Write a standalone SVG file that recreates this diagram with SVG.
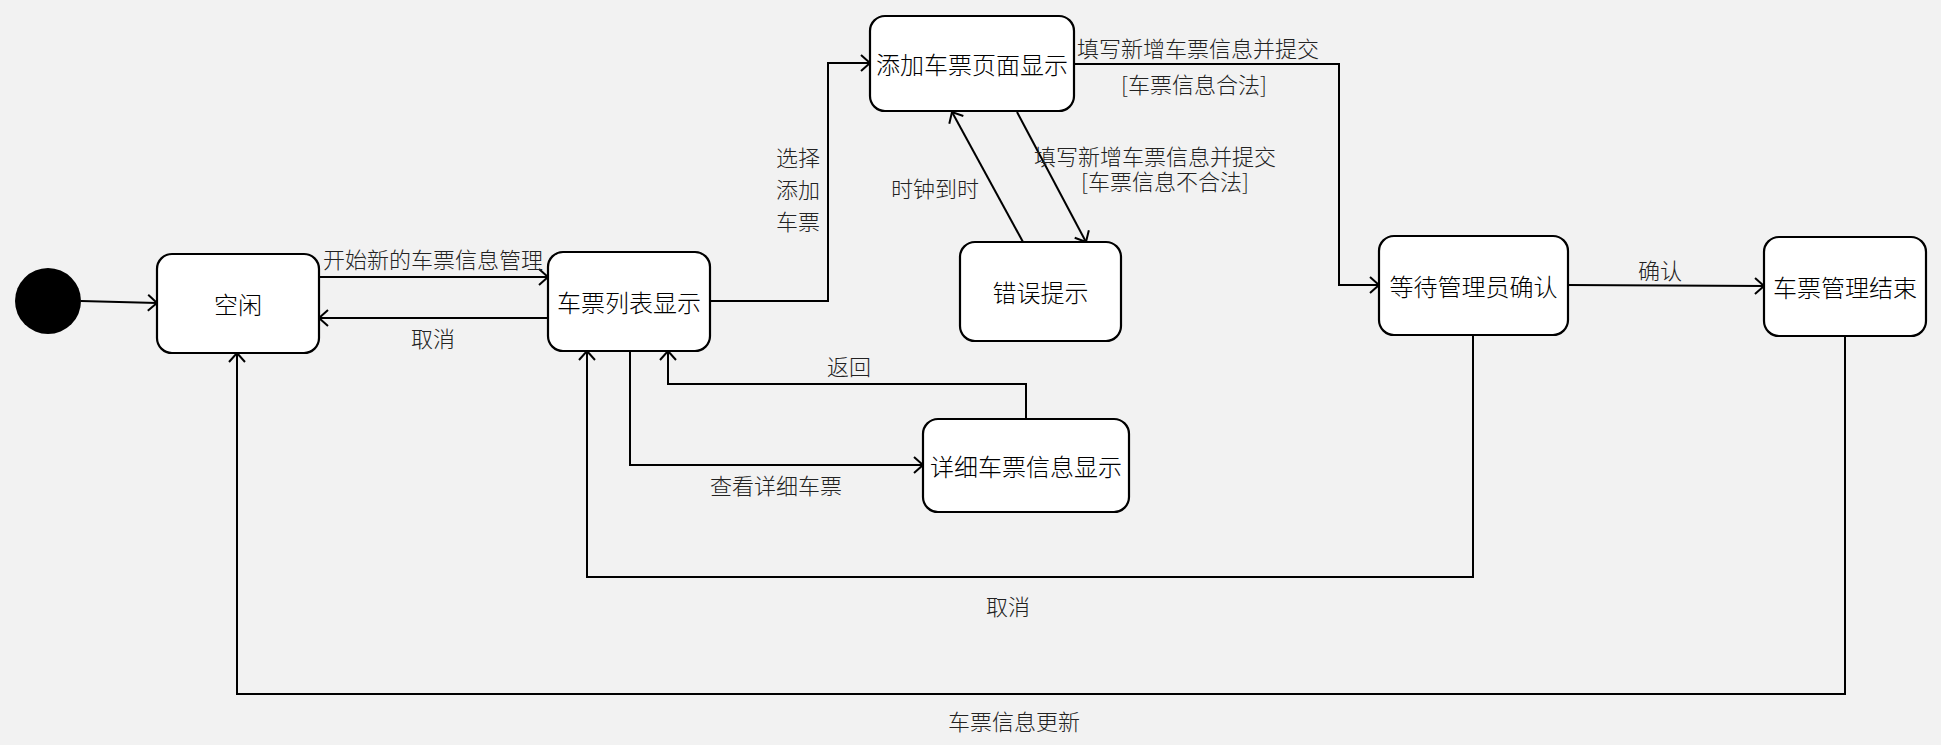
<svg xmlns="http://www.w3.org/2000/svg" width="1941" height="745" viewBox="0 0 1941 745">
<style>
.node rect{fill:#fff;stroke:#000;stroke-width:2.2}
.node text{font-family:"Noto Sans CJK SC","Noto Sans",sans-serif;font-size:24px;font-weight:300;fill:#000;text-anchor:middle;dominant-baseline:central}
.edge{fill:none;stroke:#000;stroke-width:2;marker-end:url(#arr)}
.lbl{font-family:"Noto Sans CJK SC","Noto Sans",sans-serif;font-size:22px;font-weight:300;fill:#222;text-anchor:middle;dominant-baseline:central}
</style>
<defs>
<marker id="arr" viewBox="-12 -10 14 20" refX="0" refY="0" markerWidth="14" markerHeight="20" markerUnits="userSpaceOnUse" orient="auto">
<path d="M-9,-8 L0,0 L-9,8" fill="none" stroke="#000" stroke-width="2"/>
</marker>
</defs>
<rect x="0" y="0" width="1941" height="745" fill="#f2f2f2"/>
<g id="connectors">
<path class="edge" d="M81,301 L157,303"/>
<path class="edge" d="M319,277 L548,277"/>
<path class="edge" d="M548,318 L319,318"/>
<path class="edge" d="M710,301 L828,301 L828,63 L870,63"/>
<path class="edge" d="M1074,64 L1339,64 L1339,285 L1379,285"/>
<path class="edge" d="M1017,112 L1086,242"/>
<path class="edge" d="M1023,242 L952,112"/>
<path class="edge" d="M630,351 L630,465 L923,465"/>
<path class="edge" d="M1026,419 L1026,384 L668,384 L668,351"/>
<path class="edge" d="M1473,335 L1473,577 L587,577 L587,351"/>
<path class="edge" d="M1568,285 L1764,286"/>
<path class="edge" d="M1845,336 L1845,694 L237,694 L237,353"/>
<text class="lbl" x="433" y="258">开始新的车票信息管理</text>
<text class="lbl" x="433" y="337">取消</text>
<text class="lbl" x="798" y="156">选择</text>
<text class="lbl" x="798" y="188">添加</text>
<text class="lbl" x="798" y="220">车票</text>
<text class="lbl" x="1198" y="47">填写新增车票信息并提交</text>
<text class="lbl" x="1194" y="83">[车票信息合法]</text>
<text class="lbl" x="1155" y="155">填写新增车票信息并提交</text>
<text class="lbl" x="1165" y="180">[车票信息不合法]</text>
<text class="lbl" x="935" y="187">时钟到时</text>
<text class="lbl" x="776" y="484">查看详细车票</text>
<text class="lbl" x="849" y="365">返回</text>
<text class="lbl" x="1008" y="605">取消</text>
<text class="lbl" x="1660" y="269">确认</text>
<text class="lbl" x="1014" y="720">车票信息更新</text>
</g>
<g id="init"><circle cx="48" cy="301" r="33" fill="#000"/></g>
<g id="idle" class="node"><rect x="157" y="254" width="162" height="99" rx="15"/><text x="238" y="303.5">空闲</text></g>
<g id="list" class="node"><rect x="548" y="252" width="162" height="99" rx="15"/><text x="629" y="301.5">车票列表显示</text></g>
<g id="add" class="node"><rect x="870" y="16" width="204" height="95" rx="15"/><text x="972" y="63.5">添加车票页面显示</text></g>
<g id="err" class="node"><rect x="960" y="242" width="161" height="99" rx="15"/><text x="1040.5" y="291.5">错误提示</text></g>
<g id="detail" class="node"><rect x="923" y="419" width="206" height="93" rx="15"/><text x="1026" y="465.5">详细车票信息显示</text></g>
<g id="wait" class="node"><rect x="1379" y="236" width="189" height="99" rx="15"/><text x="1473.5" y="285.5">等待管理员确认</text></g>
<g id="end" class="node"><rect x="1764" y="237" width="162" height="99" rx="15"/><text x="1845" y="286.5">车票管理结束</text></g>
</svg>
